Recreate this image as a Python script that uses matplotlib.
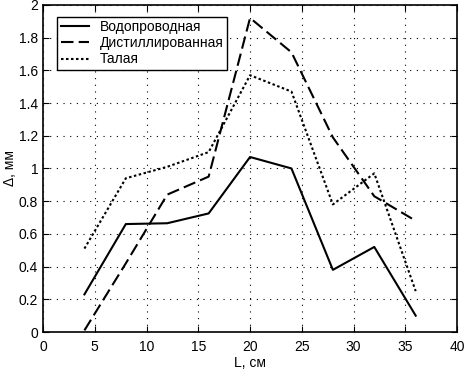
import numpy as np
import matplotlib.pyplot as plt

plt.rcParams['font.family'] = ['Liberation Sans', 'DejaVu Sans']

# length, cm
L = [4, 8, 12, 16, 20, 24, 28, 32, 36]
# delta, mm
tap = [0.23, 0.66, 0.665, 0.725, 1.07, 1.0, 0.38, 0.52, 0.10]
distilled = [0.01, 0.42, 0.84, 0.95, 1.92, 1.71, 1.19, 0.83, 0.68]
melt = [0.51, 0.94, 1.01, 1.10, 1.57, 1.47, 0.78, 0.97, 0.25]

fig = plt.figure(figsize=(4.65, 3.76), dpi=100)
ax = fig.add_axes([0.0925, 0.117, 0.8905, 0.870])

ax.plot(L, tap, color='black', lw=1.5, label='Водопроводная')
ax.plot(L, distilled, color='black', lw=1.5, dashes=(6, 2.5), label='Дистиллированная')
ax.plot(L, melt, color='black', lw=1.5, dashes=(1.2, 1.2), label='Талая')

ax.set_xlim(0, 40)
ax.set_ylim(0, 2)
ax.set_xticks(np.arange(0, 41, 5))
ax.set_yticks(np.arange(0, 2.01, 0.2))
ax.set_yticklabels(['0', '0.2', '0.4', '0.6', '0.8', '1', '1.2', '1.4', '1.6', '1.8', '2'])
ax.grid(True, color='black', linestyle=(0, (1, 5)), lw=0.8)
ax.tick_params(direction='in', length=4, labelsize=10, top=True, right=True)
ax.tick_params(axis='x', pad=6)
for s in ax.spines.values():
    s.set_linewidth(1.2)

ax.set_xlabel('L, см', fontsize=10, labelpad=1)
ax.set_ylabel('Δ, мм', fontsize=10, labelpad=1)

leg = ax.legend(loc='upper left', fontsize=10, fancybox=False, framealpha=1,
                edgecolor='black', handlelength=2.0, borderpad=0.25,
                labelspacing=0.15, bbox_to_anchor=(0.018, 0.985))
leg.get_frame().set_linewidth(1.0)

fig.savefig('out.png', dpi=100)
